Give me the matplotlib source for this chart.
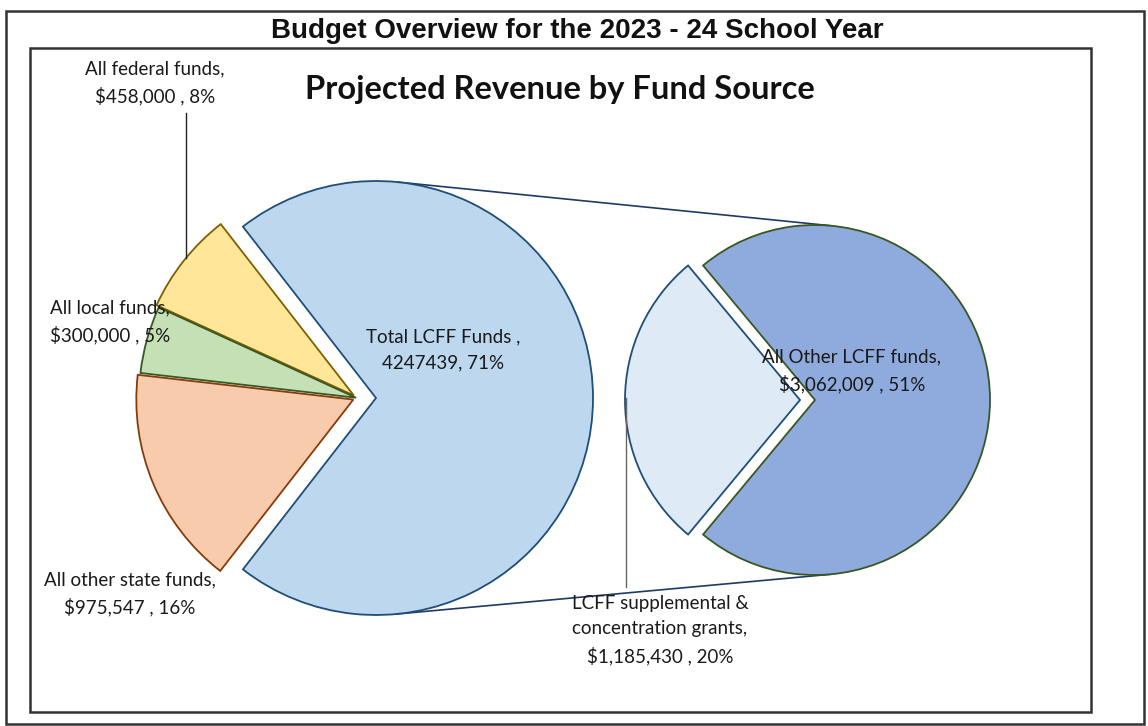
import numpy as np
import matplotlib
matplotlib.use("Agg")
import matplotlib.pyplot as plt
from matplotlib.patches import Rectangle

# main pie: aggregated LCFF slice first, then the other fund sources
main_names = ["Total LCFF Funds", "All federal funds", "All local funds", "All other state funds"]
main_values = [4247439, 458000, 300000, 975547]
main_colors = ["#BDD7EE", "#FFE699", "#C5E0B4", "#F8CBAD"]
main_edges = ["#1F4E79", "#7F6000", "#385723", "#843C0C"]

# secondary pie: breakdown of LCFF
sub_names = ["LCFF supplemental &\nconcentration grants", "All Other LCFF funds"]
sub_values = [1185430, 3062009]
sub_colors = ["#DEEBF7", "#8FAADC"]
sub_edges = ["#1F4E79", "#385723"]

W, H = 1148, 726
TXT = "#1a1a1a"
FONT = ["Lato", "DejaVu Sans"]
FS = 13.5
LS = 1.6

fig = plt.figure(figsize=(W / 100, H / 100), dpi=100)
ax = fig.add_axes([0, 0, 1, 1])


def py(y):
    # pixel row -> data y (axis points up)
    return H - y


total = sum(main_values)
fr_main = np.array(main_values) / total
fr_sub = np.array(sub_values) / sum(sub_values)

# main pie (explode is in data units = px here)
c1 = np.array([357.0, py(398)])
r1 = 217
ex1 = [19, 4, 1, 4]
start1 = -fr_main[0] * 360 / 2
ax.pie(main_values, colors=main_colors, explode=ex1, startangle=start1, radius=r1,
       center=tuple(c1), frame=True, counterclock=True,
       wedgeprops=dict(linewidth=1.3))
for w, ec in zip(ax.patches[:4], main_edges):
    w.set_edgecolor(ec)

# secondary pie
c2 = np.array([807.0, py(400)])
r2 = 175
ex2 = [7, 8]
start2 = 180 - fr_sub[0] * 360 / 2
ax.pie(sub_values, colors=sub_colors, explode=ex2, startangle=start2, radius=r2,
       center=tuple(c2), frame=True,
       wedgeprops=dict(linewidth=1.3))
for w, ec in zip(ax.patches[4:6], sub_edges):
    w.set_edgecolor(ec)

# connector lines: outer tangents between the exploded LCFF wedge and the dark sub wedge
p1c = c1 + np.array([ex1[0], 0])
p2c = c2 + np.array([ex2[1], 0])
d = p2c - p1c
D = np.hypot(*d)
dh = d / D
th = np.arccos((r1 - r2) / D)
for s in (1, -1):
    ang = np.arctan2(dh[1], dh[0]) + s * th
    n = np.array([np.cos(ang), np.sin(ang)])
    a = p1c + r1 * n
    b = p2c + r2 * n
    ax.plot([a[0], b[0]], [a[1], b[1]], color="#203864", lw=1.2, zorder=0.5)


def money(v):
    return f"${v:,}"


pct_main = [round(f * 100) for f in fr_main]
pct_sub = [round(v / total * 100) for v in sub_values]

lab = dict(ha="center", va="center", fontsize=FS, color=TXT, family=FONT, linespacing=LS, zorder=5)
ax.text(443, py(350), f"{main_names[0]} ,\n{main_values[0]}, {pct_main[0]}%", **lab)
ax.text(155, py(83), f"{main_names[1]},\n{money(main_values[1])} , {pct_main[1]}%", **lab)
ax.text(110, py(322), f"{main_names[2]},\n{money(main_values[2])} , {pct_main[2]}%", **lab)
ax.text(130, py(594), f"{main_names[3]},\n{money(main_values[3])} , {pct_main[3]}%", **lab)
ax.text(852, py(371), f"{sub_names[1]},\n{money(sub_values[1])} , {pct_sub[1]}%", **lab)
ax.text(660, py(630), f"{sub_names[0]},\n{money(sub_values[0])} , {pct_sub[0]}%", **lab)

# leader lines
ax.plot([186, 186], [py(113), py(258)], color="#222222", lw=1.0)
ax.plot([626, 626], [py(398), py(587)], color="#666666", lw=1.0)

# frames and titles
ax.add_patch(Rectangle((6, py(724)), 1138, 713, fill=False, ec="#333333", lw=1.8, zorder=6))
ax.add_patch(Rectangle((30, py(712)), 1061, 664, fill=False, ec="#333333", lw=1.8, zorder=6))
ax.text(577, py(31), "Budget Overview for the 2023 - 24 School Year", ha="center", va="center",
        fontsize=20, fontweight="bold", color="#111111", family=["Liberation Sans", "DejaVu Sans"])
ax.text(560, py(90), "Projected Revenue by Fund Source", ha="center", va="center",
        fontsize=23.5, fontweight="bold", color="#111111", family=FONT)

ax.set_xlim(0, W)
ax.set_ylim(0, H)
ax.set_aspect("auto")
ax.set_axis_off()

fig.savefig("out.png", dpi=100)
